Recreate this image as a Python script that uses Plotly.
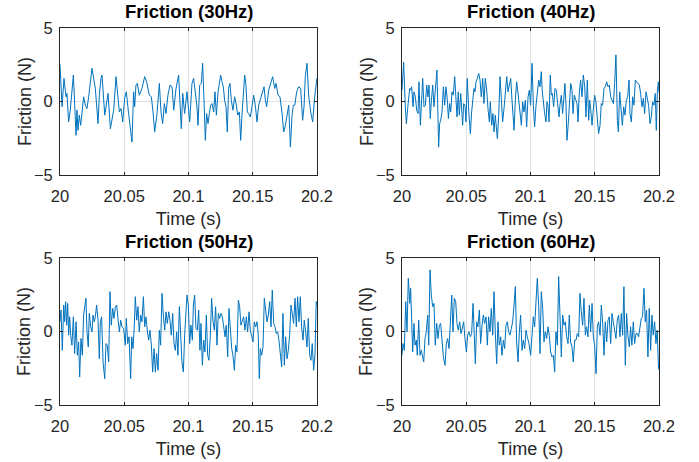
import plotly.graph_objects as go

# Time offsets in milliseconds after t = 20 s, friction in N
t30 = [0.0,1.6,3.1,4.7,5.4,6.7,8.0,9.3,10.4,12.5,13.2,14.0,15.0,16.1,17.1,18.4,19.7,21.0,22.3,23.6,24.9,26.2,27.5,29.6,30.6,31.9,32.7,34.8,35.8,37.4,39.2,40.5,41.8,43.6,44.9,46.2,47.5,48.8,50.3,51.6,53.4,56.0,57.3,58.1,59.1,60.2,61.7,63.8,65.9,67.4,69.5,71.1,72.4,73.7,75.5,77.3,78.6,79.9,81.2,82.5,84.0,85.6,87.2,88.5,90.3,92.3,94.4,95.5,97.0,98.8,100.9,
       102.7,104.0,105.3,106.6,107.4,108.7,110.0,111.0,112.1,113.1,114.1,115.2,116.2,117.3,118.3,119.6,120.6,121.7,123.0,124.0,125.0,126.1,127.1,128.1,129.2,130.2,131.2,132.3,133.3,134.6,135.9,137.2,138.3,139.6,140.6,141.6,142.7,143.7,144.7,145.8,146.8,148.1,149.4,150.7,152.0,153.3,154.6,155.9,157.2,158.8,159.8,160.8,162.4,164.0,165.5,167.1,168.1,169.7,171.2,172.8,174.1,175.4,176.7,178.0,179.3,180.6,181.6,182.7,184.2,185.7,187.3,188.8,189.9,190.9,192.2,193.5,195.1,196.6,198.2,200.0]
f30 = [2.53,-0.36,1.57,0.32,0.55,-1.39,-0.59,1.00,1.80,-2.30,-0.59,-1.96,-0.93,-1.62,-0.82,0.32,-0.25,-0.48,0.32,1.46,2.26,1.57,0.89,-1.50,0.43,1.57,1.80,-0.93,-0.36,0.55,-1.85,-1.16,-0.59,1.69,0.43,-0.71,-0.48,-1.39,0.21,0.66,-0.82,-2.76,0.66,-0.36,1.12,1.23,0.43,0.89,1.69,1.34,0.43,0.32,-0.71,-2.07,-0.82,1.23,-0.71,-1.50,-0.14,-0.82,0.43,1.12,1.00,-0.59,0.89,1.80,-1.85,0.55,-0.82,0.66,-1.39,
       1.23,1.57,0.66,-0.36,-1.62,1.12,1.23,2.60,-0.02,-2.64,-0.82,-1.50,-0.82,-0.25,-0.14,-0.71,0.66,-0.93,0.66,1.23,1.80,1.34,1.00,0.09,-0.36,-2.07,0.89,1.23,0.09,-0.59,0.32,-0.25,-0.93,-0.71,-2.64,-0.93,0.89,1.80,1.12,-0.71,-0.82,-1.05,-0.36,0.43,-0.25,-1.39,-0.25,0.09,0.55,1.00,0.09,-0.36,0.77,1.23,1.69,0.89,1.23,0.43,0.32,-0.82,-2.07,-1.62,-0.82,-0.25,-3.10,-0.93,-0.25,-0.25,0.66,1.00,0.89,-1.28,-0.36,1.69,2.60,0.43,-0.71,-1.39,0.32,1.60]

t40 = [0.0,1.3,2.6,3.4,4.4,5.2,6.0,6.7,7.5,8.6,9.3,10.4,11.4,12.5,13.2,14.3,15.3,16.1,17.1,18.2,19.2,20.2,21.0,22.0,22.8,23.9,24.9,25.9,27.2,28.0,28.5,29.3,30.1,31.1,32.2,33.2,34.2,35.3,36.1,37.1,37.9,38.9,39.9,41.0,41.8,42.8,43.8,44.6,45.7,46.4,47.2,48.0,49.0,49.8,50.8,51.9,53.2,54.2,55.3,56.0,56.8,57.6,58.6,59.7,60.7,61.7,62.8,63.8,64.8,65.9,66.9,68.0,68.7,69.8,70.8,71.6,72.6,74.2,75.2,76.3,77.3,78.3,79.4,80.4,81.5,82.5,83.5,84.6,85.6,87.2,88.2,89.2,90.3,91.3,92.9,93.9,94.9,96.0,97.0,98.1,99.1,100.1,101.2,
       102.2,103.2,104.3,105.1,106.4,107.4,108.4,109.2,110.2,111.0,112.1,112.8,113.6,114.4,115.4,116.2,117.0,118.0,119.1,120.1,121.1,122.2,122.9,124.0,125.0,126.1,126.8,127.6,128.4,129.4,130.5,131.3,132.3,133.1,134.1,135.2,136.2,137.0,138.0,139.0,140.1,141.1,142.2,143.2,144.2,145.3,146.0,146.8,147.9,148.6,149.9,150.9,152.0,153.0,154.1,155.1,156.1,157.2,158.2,159.3,160.3,161.3,162.4,163.4,164.5,165.5,166.5,167.6,168.4,169.4,170.4,171.5,172.5,173.5,174.6,175.6,176.7,177.4,178.5,179.5,180.5,181.6,182.6,183.6,184.7,185.7,186.8,187.8,188.8,189.9,190.9,191.9,193.0,194.0,195.0,196.1,197.1,197.9,198.7,199.5,200.0]
f40 = [0.77,2.67,-0.36,-1.50,-0.48,0.32,0.89,0.77,1.00,-0.36,0.66,0.32,-0.59,-0.82,1.34,-1.62,0.43,1.57,-0.36,-0.25,1.12,0.32,1.12,-1.16,-0.02,1.12,-0.36,1.00,2.14,-1.05,-3.10,-1.50,-1.28,-0.71,1.00,-0.25,1.00,0.09,-1.16,-0.14,-0.71,0.66,0.43,1.69,0.43,-1.05,0.66,-0.93,0.55,-0.25,-1.62,-0.14,-0.25,-1.39,1.57,-0.59,-2.19,-0.71,0.09,0.89,0.66,1.34,1.57,1.91,1.46,0.32,1.57,-0.14,1.57,0.77,-0.48,-1.39,-0.02,-1.62,-0.82,-2.07,-0.93,-2.53,-1.05,1.69,0.21,-1.39,-0.48,0.77,1.69,0.66,1.23,1.57,0.09,-1.96,0.09,1.34,0.55,-0.25,-1.62,-0.02,-0.71,0.09,-1.73,0.32,0.77,-0.25,2.60,
       -0.25,-1.73,-0.25,0.43,1.46,1.00,2.03,0.66,-0.25,-0.82,-1.39,-0.02,-0.25,-1.39,1.80,0.43,0.55,-0.36,0.89,0.77,-0.14,-1.05,-0.25,0.43,-0.82,0.89,1.23,-0.25,-2.64,-1.50,-0.25,1.23,0.77,-0.82,0.43,0.09,-0.14,-1.39,0.66,1.46,0.32,1.80,1.00,-1.05,1.46,-1.28,0.09,-0.48,-1.62,-0.82,0.43,-0.02,-1.05,-2.19,-1.62,-0.14,-0.25,0.89,1.00,1.34,1.00,1.12,0.32,0.09,-0.14,1.23,3.17,-1.28,-2.07,0.66,-0.25,-1.62,-0.36,-0.93,0.09,0.32,1.46,-0.82,-1.39,0.32,-0.25,1.46,1.34,1.23,1.12,0.55,-0.36,0.21,-0.82,0.66,0.21,-0.25,-1.50,-1.05,-0.02,-0.25,0.55,-1.96,0.66,1.34,0.60]

t50 = [0.0,0.8,1.8,2.9,3.6,4.4,5.2,6.0,6.7,7.5,8.3,9.3,10.4,11.4,12.5,13.5,14.5,15.3,16.3,17.4,18.4,19.5,20.2,21.0,22.0,22.8,23.9,24.9,25.7,26.7,27.5,28.5,29.6,30.6,31.4,32.4,33.5,34.8,35.8,36.8,37.9,38.9,39.9,41.0,42.0,43.1,44.1,45.1,46.2,47.2,48.2,49.5,50.8,51.6,52.7,53.7,55.0,55.8,56.8,57.8,58.6,59.7,60.7,61.7,62.8,63.8,64.9,65.9,66.9,68.0,69.0,70.0,71.1,72.1,73.2,74.2,75.2,76.3,77.3,78.3,79.4,80.4,81.5,82.5,83.5,84.6,85.6,86.6,87.7,88.7,89.8,90.8,91.8,92.9,93.9,94.9,96.0,97.0,
       98.8,99.9,100.9,101.9,103.0,103.8,104.8,105.8,106.9,107.9,108.9,109.7,110.8,111.8,112.8,113.9,114.9,115.9,117.0,118.0,119.1,120.1,121.1,122.2,123.2,124.2,125.3,126.3,127.4,128.4,129.4,130.5,131.5,132.5,133.6,134.6,135.7,136.7,137.7,138.8,139.8,140.8,141.9,142.9,143.9,145.0,146.0,147.1,148.1,149.2,150.2,151.2,152.3,153.3,154.3,155.1,155.9,156.9,158.0,159.0,160.1,161.1,162.1,163.2,164.2,165.2,166.3,167.3,168.4,169.4,170.4,171.5,172.5,173.5,174.6,175.6,176.7,177.7,178.7,179.8,180.8,181.8,182.9,183.9,184.9,186.0,187.0,188.0,189.1,190.1,191.2,192.2,193.2,194.3,195.3,196.3,197.4,198.4,199.4,200.0]
f50 = [0.66,1.46,-1.28,1.80,0.66,2.03,0.43,1.91,-0.25,1.00,-0.25,-0.93,1.00,-1.50,0.66,-1.62,-0.71,-3.10,-0.48,-1.62,1.12,2.14,2.26,-0.02,-1.05,1.23,0.32,-0.02,1.12,0.66,1.00,1.80,0.77,-1.85,0.66,1.00,-2.07,-3.21,-0.82,-0.93,-2.07,2.71,0.43,1.57,0.89,1.69,1.80,0.89,-0.02,0.77,0.32,0.21,-0.93,0.89,-0.82,-0.36,-3.21,-0.36,-1.16,0.32,2.37,0.77,1.69,-0.02,1.12,0.66,2.37,0.32,1.00,-0.02,-0.59,0.09,-0.93,-2.76,-1.16,-2.76,-1.50,-2.64,0.09,-0.93,2.60,1.12,0.09,1.34,0.55,1.34,0.77,-0.25,1.23,-0.82,-1.28,-0.02,-1.62,1.69,-0.82,-2.07,-2.76,-0.25,
       2.48,1.80,-0.82,0.43,-0.59,1.80,2.48,0.21,0.09,1.46,-1.28,0.55,-2.30,-0.59,-1.39,1.12,-1.62,-1.96,-0.25,2.26,0.66,0.09,1.69,-0.93,1.23,0.89,1.23,1.00,0.32,-0.36,0.43,-1.73,1.57,-0.14,-1.16,-1.62,-2.64,-0.93,-1.39,2.14,1.69,0.43,0.66,1.00,0.09,1.00,-0.02,1.34,0.09,-0.36,-0.71,0.66,0.32,0.66,-0.25,-3.21,-1.16,-1.62,-1.05,2.26,1.12,0.66,1.12,2.03,0.32,2.82,0.55,0.32,-0.14,-0.02,-0.59,-1.39,-2.41,1.23,-2.30,-0.36,-1.85,-1.28,-0.25,1.80,1.23,0.55,2.26,0.32,2.37,0.66,2.37,0.32,-0.59,0.77,-0.02,-1.05,0.89,-1.62,-1.96,-0.82,-2.64,-1.62,2.03,1.80]

t60 = [0.0,0.8,1.8,2.9,3.9,4.9,6.0,6.7,7.5,8.3,9.3,10.1,11.2,11.9,13.0,14.0,15.0,15.8,16.9,17.9,18.9,20.0,20.8,21.8,22.8,23.9,24.9,25.9,27.0,28.0,29.1,30.1,31.1,32.2,33.5,34.5,35.5,36.6,37.6,38.7,39.7,40.7,41.8,42.8,43.8,44.9,45.9,47.0,48.0,49.0,50.1,51.1,52.1,53.2,54.2,55.3,56.3,57.1,58.1,59.1,60.2,61.2,62.3,63.3,64.3,65.4,66.4,67.4,68.5,69.5,70.6,71.6,72.6,73.7,74.7,75.7,76.8,77.8,78.9,79.9,80.9,82.0,83.0,84.0,85.1,86.1,87.2,88.2,89.2,90.3,91.3,92.3,93.4,94.4,95.5,96.5,97.5,
       98.8,100.1,101.2,102.2,103.2,104.3,105.3,106.4,107.4,108.4,109.5,110.5,111.5,112.6,113.6,114.6,115.7,116.7,117.8,118.8,119.8,120.9,121.9,122.9,124.0,125.0,126.1,127.1,128.1,129.2,130.2,131.2,132.3,133.3,134.4,135.4,136.4,137.5,138.5,139.5,140.6,141.6,142.7,143.7,144.7,145.8,146.8,147.9,148.9,149.9,151.0,152.0,153.0,154.1,155.1,156.2,157.2,158.2,159.3,160.3,161.3,162.4,163.4,164.4,165.5,166.5,167.5,168.6,169.6,170.7,171.7,172.7,173.8,174.8,175.8,176.9,177.9,178.9,180.0,181.0,182.1,183.1,184.1,185.2,186.2,187.2,188.3,189.3,190.3,191.4,192.4,193.5,194.5,195.5,196.6,197.6,198.6,199.6,200.0]
f60 = [-1.62,-0.82,-1.28,2.03,-0.02,3.62,1.91,2.94,0.89,-1.39,0.55,-0.93,-0.59,-1.62,0.77,-1.62,-1.28,-1.73,-2.07,-0.48,-0.02,1.12,-0.93,4.19,2.48,1.69,1.91,-0.93,0.55,-0.48,0.43,0.55,-0.82,-1.73,-2.30,-0.82,-0.48,-1.16,0.55,2.48,-0.02,2.26,2.03,0.55,0.09,0.66,-0.14,0.43,0.66,-0.48,-1.39,-0.25,-0.02,-0.36,-0.14,1.91,-0.71,-2.19,0.66,0.32,1.46,-0.82,0.43,1.12,0.55,1.00,-0.93,1.00,-0.02,1.57,-0.25,2.71,-0.02,-2.19,0.66,-0.93,-0.36,-1.62,-0.59,-1.16,0.43,0.66,-0.02,-0.25,0.21,0.66,1.80,3.05,-0.71,-2.07,-0.02,1.12,-1.28,-0.59,-1.16,0.09,-0.36,
       -0.82,-1.62,-0.48,1.00,0.32,2.03,3.62,1.69,-1.50,2.71,1.57,-0.71,-0.02,-0.48,0.32,-0.25,-1.39,-1.73,-1.62,-2.76,-0.02,-0.93,3.74,1.23,-1.73,1.12,0.43,0.66,-0.36,-0.82,1.12,-0.71,-1.05,-2.07,-0.59,-0.59,-0.14,-0.36,2.60,1.34,0.43,2.26,-0.25,0.32,-0.36,1.80,-0.02,1.91,-0.36,-0.93,-2.87,0.32,0.66,-0.25,1.80,0.55,-1.62,0.66,-0.71,0.77,1.00,-0.82,1.23,0.66,0.09,-0.48,0.77,1.12,-0.36,1.23,-0.25,3.05,-2.30,1.23,-0.25,-1.05,0.32,-0.93,0.66,-0.82,-0.14,-0.14,-0.36,0.32,0.89,1.00,2.94,0.66,1.46,-1.73,1.57,-1.28,1.12,-0.25,0.66,-0.82,0.09,-2.53,-2.60]

titles = ["Friction (30Hz)", "Friction (40Hz)", "Friction (50Hz)", "Friction (60Hz)"]
series = [(t30, f30), (t40, f40), (t50, f50), (t60, f60)]
xticks = [20, 20.05, 20.1, 20.15, 20.2]
xticktext = ["20", "20.05", "20.1", "20.15", "20.2"]
yticks = [-5, 0, 5]

W, H = 699, 462
def px_x(v):
    return v / W
def px_y(v):
    return 1 - v / H

xdoms = [(px_x(60), px_x(317)), (px_x(402), px_x(659))]
ydoms = [(px_y(175), px_y(28)), (px_y(405), px_y(258))]
ylab_x = [px_x(60 - 35.5), px_x(402 - 35.5)]

FONT = "Liberation Sans, Arial, Helvetica, sans-serif"
AX = "#262626"
GRID = "#e0e0e0"
LINE = "#0072BD"

fig = go.Figure()
annotations = []
for i, (tt, ff) in enumerate(series):
    r, c = divmod(i, 2)
    n = i + 1
    xa = "x" if n == 1 else f"x{n}"
    ya = "y" if n == 1 else f"y{n}"
    fig.add_trace(go.Scatter(
        x=[20 + v / 1000 for v in tt], y=ff, mode="lines",
        line=dict(color=LINE, width=1), xaxis=xa, yaxis=ya,
        showlegend=False, hoverinfo="skip"))
    common = dict(showline=True, linecolor=AX, linewidth=1, mirror="ticks",
                  ticks="inside", ticklen=3, tickcolor=AX, tickwidth=1,
                  showgrid=True, gridcolor=GRID, gridwidth=1, zeroline=False,
                  automargin=False,
                  tickfont=dict(family=FONT, size=16.5, color=AX))
    fig.layout[f"xaxis{'' if n == 1 else n}"] = dict(
        common, domain=list(xdoms[c]), anchor=ya, range=[20, 20.2],
        tickvals=xticks, ticktext=xticktext, ticklabelstandoff=6,
        title=dict(text="Time (s)", font=dict(family=FONT, size=18, color=AX), standoff=8))
    fig.layout[f"yaxis{'' if n == 1 else n}"] = dict(
        common, domain=list(ydoms[r]), anchor=xa, range=[-5, 5],
        tickvals=yticks, ticklabelstandoff=3)
    annotations.append(dict(
        text="Friction (N)", textangle=-90, x=ylab_x[c], y=(ydoms[r][0] + ydoms[r][1]) / 2,
        xref="paper", yref="paper", xanchor="center", yanchor="middle",
        showarrow=False, font=dict(family=FONT, size=18, color=AX)))
    annotations.append(dict(
        text="<b>" + titles[i] + "</b>", x=(xdoms[c][0] + xdoms[c][1]) / 2, y=ydoms[r][1],
        xref="paper", yref="paper", xanchor="center", yanchor="bottom", yshift=4,
        showarrow=False, font=dict(family=FONT, size=18.5, color="#000000")))

fig.update_layout(width=W, height=H, margin=dict(l=0, r=0, t=0, b=0),
                  paper_bgcolor="white", plot_bgcolor="white",
                  annotations=annotations)
# remove the default page margin so the figure sits at the window's top-left corner
fig.write_html("out.html", config={"displayModeBar": False},
               post_script="document.body.style.margin='0';")
